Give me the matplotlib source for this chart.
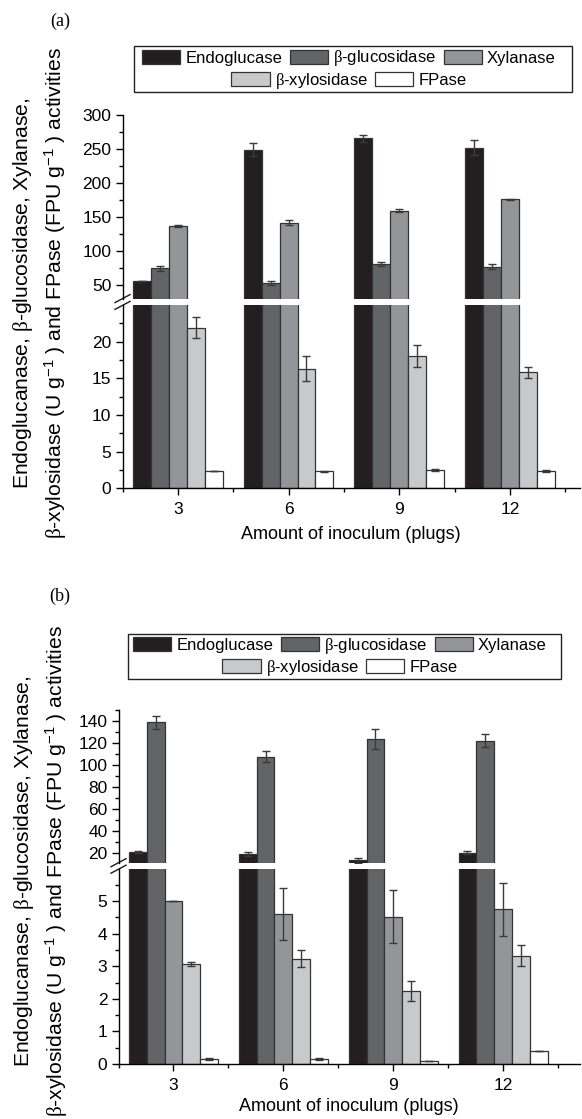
import numpy as np
import matplotlib
matplotlib.use('Agg')
import matplotlib.pyplot as plt
from matplotlib.patches import Patch, Rectangle
from matplotlib.ticker import MultipleLocator

plt.rcParams['font.family'] = 'Liberation Sans'
plt.rcParams['mathtext.fontset'] = 'custom'
plt.rcParams['mathtext.rm'] = 'Liberation Sans'
plt.rcParams['mathtext.it'] = 'Liberation Serif'
plt.rcParams['mathtext.bf'] = 'Liberation Sans:bold'

# x categories (number of plugs)
categories = ['3', '6', '9', '12']
names = ['Endoglucase', r'$\beta$-glucosidase', 'Xylanase',
         r'$\beta$-xylosidase', 'FPase']
colors = ['#231f20', '#636466', '#939598', '#c8c9cb', '#ffffff']

# panel (a)
endo_a = [56.6, 249, 266, 252]
endo_a_err = [0, 10, 5, 11]
bglu_a = [74.5, 52.7, 81, 76.8]
bglu_a_err = [4, 3, 3.5, 4]
xyl_a = [136.5, 141.5, 159.5, 175.8]
xyl_a_err = [1, 4, 2, 1]
bxyl_a = [21.9, 16.3, 18.1, 15.8]
bxyl_a_err = [1.4, 1.7, 1.5, 0.8]
fpase_a = [2.4, 2.3, 2.5, 2.4]
fpase_a_err = [0, 0.1, 0.15, 0.15]

# panel (b)
endo_b = [21.2, 19.4, 13.6, 20.5]
endo_b_err = [1, 2, 2, 1.5]
bglu_b = [138.5, 107.6, 123.6, 121.8]
bglu_b_err = [6, 5, 9, 6]
xyl_b = [5.0, 4.6, 4.52, 4.75]
xyl_b_err = [0, 0.8, 0.82, 0.81]
bxyl_b = [3.07, 3.23, 2.25, 3.33]
bxyl_b_err = [0.07, 0.26, 0.31, 0.33]
fpase_b = [0.14, 0.14, 0.09, 0.39]
fpase_b_err = [0.03, 0.03, 0.01, 0]

W, H = 582, 1119
fig = plt.figure(figsize=(W / 100, H / 100), dpi=100)
renderer = fig.canvas.get_renderer()
edge = '#333333'


def add_ax(left, right, top, bottom):
    return fig.add_axes([left / W, 1 - bottom / H, (right - left) / W, (bottom - top) / H])


def draw_panel(vals, errs, left, right, top, gap_hi, gap_lo, bottom, xmax,
               lim_hi, lim_lo, step_hi, step_lo, xpad):
    ax_hi = add_ax(left, right, top, gap_hi)
    ax_lo = add_ax(left, right, gap_lo, bottom)
    x = np.arange(len(categories))
    w = 0.162
    for ax in (ax_hi, ax_lo):
        for i in range(len(names)):
            ax.bar(x + (i - 2) * w, vals[i], w, yerr=errs[i], color=colors[i],
                   edgecolor=edge, linewidth=0.9,
                   error_kw=dict(ecolor='#3a3a3a', elinewidth=1, capsize=3, capthick=1))
        ax.set_xlim(-0.5, xmax)
        ax.spines[['top', 'right']].set_visible(False)
        ax.spines['left'].set_linewidth(1)
        ax.spines['bottom'].set_linewidth(1)
        ax.tick_params(axis='y', which='major', direction='out', length=5, width=1,
                       labelsize=12.5, pad=3)
        ax.tick_params(axis='y', which='minor', direction='out', length=2.8, width=1)
    ax_hi.set_ylim(*lim_hi)
    ax_lo.set_ylim(*lim_lo)
    ax_hi.yaxis.set_major_locator(MultipleLocator(step_hi))
    ax_hi.yaxis.set_minor_locator(MultipleLocator(step_hi / 2))
    ax_lo.yaxis.set_major_locator(MultipleLocator(step_lo))
    ax_lo.yaxis.set_minor_locator(MultipleLocator(step_lo / 2))
    ax_hi.spines['bottom'].set_visible(False)
    ax_hi.tick_params(axis='x', which='both', bottom=False, labelbottom=False)
    ax_lo.set_xticks(x, categories)
    ax_lo.set_xticks(np.arange(-0.5, len(categories), 1), minor=True)
    ax_lo.tick_params(axis='x', which='major', direction='out', length=5, width=1,
                      labelsize=12.5, pad=5)
    ax_lo.tick_params(axis='x', which='minor', direction='out', length=2.8, width=1)
    ax_lo.set_xlabel('Amount of inoculum (plugs)', fontsize=13, labelpad=xpad)

    # axis break marks on the left spine
    wpx = right - left
    for ax, hpx, y0 in ((ax_hi, gap_hi - top, 0), (ax_lo, bottom - gap_lo, 1)):
        dx, dy = 7.5 / wpx, 4 / hpx
        ax.plot([-dx, dx], [y0 - dy, y0 + dy], transform=ax.transAxes,
                color='#1a1a1a', lw=1, clip_on=False)
    return ax_hi, ax_lo


def add_legend(rows_y, cx, box):
    handles = [Patch(facecolor=c, edgecolor=edge, linewidth=0.9, label=n)
               for c, n in zip(colors, names)]
    for hs, ry in ((handles[:3], rows_y[0]), (handles[3:], rows_y[1])):
        fig.legend(handles=hs, loc='center', bbox_to_anchor=(cx / W, 1 - ry / H),
                   ncol=len(hs), frameon=False, fontsize=12, handlelength=2.3,
                   handleheight=0.95, handletextpad=0.3, columnspacing=0.45,
                   borderpad=0, borderaxespad=0)
    fig.add_artist(Rectangle((box[0] / W, 1 - box[3] / H), (box[1] - box[0]) / W,
                             (box[3] - box[2]) / H, transform=fig.transFigure,
                             fill=False, lw=1, ec='#222222'))


def add_ylabel(yc, x1, x2, length=393):
    t1 = fig.text(x1 / W, 1 - yc / H, r'Endoglucanase, $\beta$-glucosidase, Xylanase,',
                  rotation=90, rotation_mode='anchor', ha='center', va='baseline',
                  fontsize=15)
    t2 = fig.text(x2 / W, 1 - yc / H,
                  r'$\beta$-xylosidase (U g$^{-1}$ ) and FPase (FPU g$^{-1}$ ) activities',
                  rotation=90, rotation_mode='anchor', ha='center', va='baseline',
                  fontsize=15)
    # fit the font size so the first line spans the same length as in the original
    size = 15 * length / t1.get_window_extent(renderer).height
    t1.set_fontsize(size)
    t2.set_fontsize(size)


vals_a = [endo_a, bglu_a, xyl_a, bxyl_a, fpase_a]
errs_a = [endo_a_err, bglu_a_err, xyl_a_err, bxyl_a_err, fpase_a_err]
vals_b = [endo_b, bglu_b, xyl_b, bxyl_b, fpase_b]
errs_b = [endo_b_err, bglu_b_err, xyl_b_err, bxyl_b_err, fpase_b_err]

draw_panel(vals_a, errs_a, 122.5, 580, 115, 298.6, 305.4, 488.3, 3.633,
           (30, 300), (0, 24.95), 50, 5, 6)
draw_panel(vals_b, errs_b, 118.5, 580, 709.7, 862.7, 869.2, 1064, 3.70,
           (11.5, 150), (0, 5.98), 20, 1, 4)

add_legend((58.5, 81), 349, (134.4, 572.4, 46, 92.3))
add_legend((646, 667.7), 340, (128, 561, 634, 678.7))

add_ylabel(293, 28, 62)
add_ylabel(871, 29, 63)

fig.text(60 / W, 1 - 21.5 / H, '(a)', family='Liberation Serif', fontsize=13,
         ha='center', va='center')
fig.text(60 / W, 1 - 596.5 / H, '(b)', family='Liberation Serif', fontsize=13,
         ha='center', va='center')

fig.savefig('out.png', dpi=100)
